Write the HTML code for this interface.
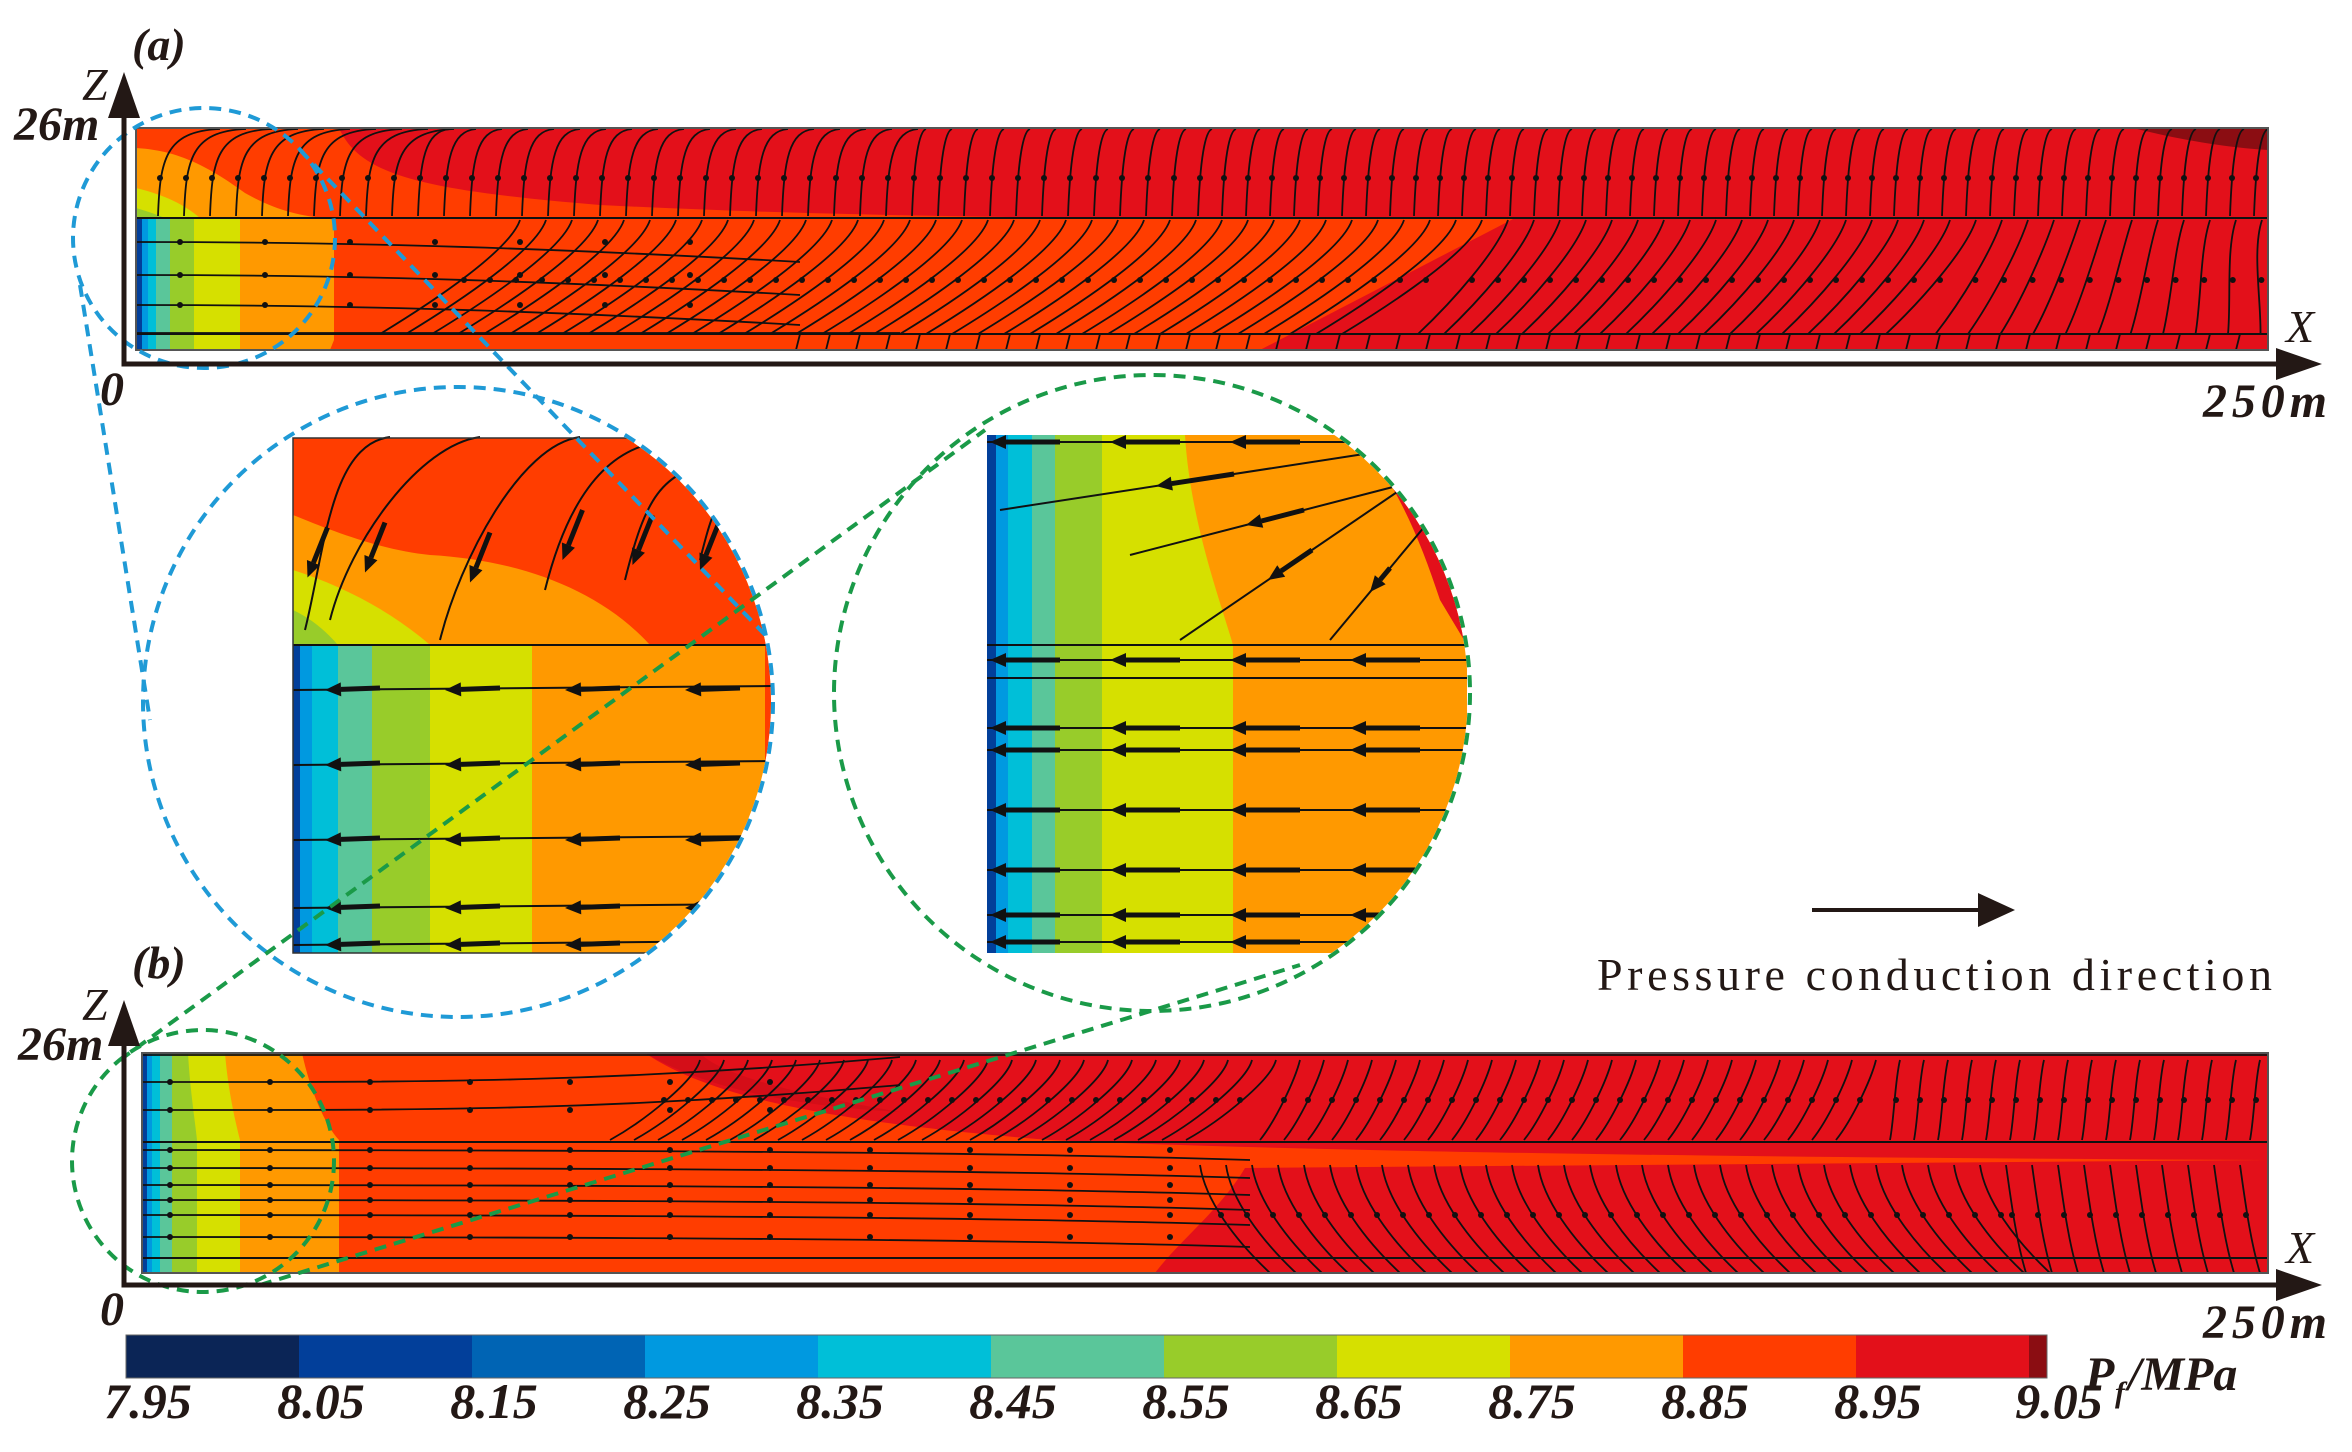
<!DOCTYPE html>
<html><head><meta charset="utf-8"><style>
html,body{margin:0;padding:0;background:#fff;}
svg{display:block;}
.lab{font-family:"Liberation Serif",serif;font-style:italic;font-weight:bold;fill:#231815;}
</style></head><body>
<svg id="s" width="2352" height="1452" viewBox="0 0 2352 1452" xmlns="http://www.w3.org/2000/svg">
<defs>
<clipPath id="ca"><rect x="136" y="128" width="2132" height="222"/></clipPath>
<clipPath id="cb"><rect x="142" y="1053" width="2126" height="220"/></clipPath>
<clipPath id="cz1"><circle cx="458" cy="702" r="313"/></clipPath>
<clipPath id="cz2"><circle cx="1152" cy="693" r="316"/></clipPath>
</defs>

<g clip-path="url(#ca)">
<rect x="136" y="128" width="2132" height="222" fill="#E3101A"/>
<path d="M136,128 L339,128 C360,175 420,190 600,205 C800,215 950,216 1080,218 L1515,218 L1260,350 L136,350 Z" fill="#FF3D00"/>
<path d="M2133,128 C2180,140 2230,148 2268,150 L2268,128 Z" fill="#8B0D12"/>
<path d="M136,148 C170,150 200,160 245,193 C275,210 300,216 325,218 L334,218 L334,340 C332,345 330,350 330,350 L136,350 Z" fill="#FF9900"/>
<path d="M136,188 C165,195 185,205 200,218 L240,218 L240,350 L136,350 Z" fill="#D6E000"/>
<path d="M136,208 C150,212 160,216 165,218 L194,218 L194,350 L136,350 Z" fill="#98CC2A"/>
<rect x="136" y="218" width="34" height="132" fill="#5AC69A"/>
<rect x="136" y="218" width="20" height="132" fill="#00BFD8"/>
<rect x="136" y="218" width="12" height="132" fill="#0099E0"/>
<rect x="136" y="218" width="6" height="132" fill="#023F9A"/>
<g id="sa" fill="none" stroke="#111" stroke-width="1.8"></g>
<line x1="136" y1="218" x2="2268" y2="218" stroke="#111" stroke-width="2"/>
<line x1="136" y1="334" x2="2268" y2="334" stroke="#111" stroke-width="2"/>
</g>
<rect x="136" y="128" width="2132" height="222" fill="none" stroke="#555" stroke-width="2"/>

<g clip-path="url(#cb)">
<rect x="142" y="1053" width="2126" height="220" fill="#FF3D00"/>
<path d="M645,1053 C700,1090 800,1120 1050,1140 C1300,1152 1800,1158 2268,1160 L2268,1053 Z" fill="#E3101A"/>
<path d="M645,1053 C700,1085 780,1105 900,1112 C800,1095 720,1075 700,1053 Z" fill="#D40E18"/>
<path d="M1245,1168 C1220,1210 1180,1240 1155,1273 L2268,1273 L2268,1160 Z" fill="#E3101A"/>
<path d="M142,1053 L302,1053 C310,1090 325,1125 339,1140 L339,1273 L142,1273 Z" fill="#FF9900"/>
<path d="M142,1053 L225,1053 C228,1090 235,1120 240,1140 L240,1273 L142,1273 Z" fill="#D6E000"/>
<path d="M142,1053 L188,1053 C190,1090 195,1120 197,1140 L197,1273 L142,1273 Z" fill="#98CC2A"/>
<rect x="142" y="1053" width="30" height="220" fill="#5AC69A"/>
<rect x="142" y="1053" width="18" height="220" fill="#00BFD8"/>
<rect x="142" y="1053" width="10" height="220" fill="#0099E0"/>
<rect x="142" y="1053" width="5" height="220" fill="#023F9A"/>
<g id="sb" fill="none" stroke="#111" stroke-width="1.8"></g>
<line x1="142" y1="1142" x2="2268" y2="1142" stroke="#111" stroke-width="2"/>
<line x1="142" y1="1258" x2="2268" y2="1258" stroke="#111" stroke-width="2"/>
</g>
<rect x="142" y="1053" width="2126" height="220" fill="none" stroke="#555" stroke-width="2"/>

<g clip-path="url(#cz1)">
<rect x="293" y="438" width="480" height="515" fill="#FF9900"/>
<path d="M293,438 L773,438 L773,645 L650,645 C600,590 520,560 430,555 C380,550 330,530 293,515 Z" fill="#FF3D00"/>
<path d="M293,570 C340,585 390,610 430,645 L293,645 Z" fill="#D6E000"/>
<path d="M293,610 C310,618 325,630 338,645 L293,645 Z" fill="#98CC2A"/>
<rect x="430" y="645" width="102" height="308" fill="#D6E000"/>
<rect x="372" y="645" width="58" height="308" fill="#98CC2A"/>
<rect x="338" y="645" width="34" height="308" fill="#5AC69A"/>
<rect x="312" y="645" width="26" height="308" fill="#00BFD8"/>
<rect x="300" y="645" width="12" height="308" fill="#0099E0"/>
<rect x="293" y="645" width="7" height="308" fill="#023F9A"/>
<rect x="765" y="645" width="20" height="308" fill="#FF3D00"/>
<g id="z1" fill="none" stroke="#111" stroke-width="2"></g>
<line x1="293" y1="645" x2="773" y2="645" stroke="#111" stroke-width="2"/>
</g>
<rect x="293" y="438" width="480" height="515" fill="none" stroke="#333" stroke-width="1.5" clip-path="url(#cz1)"/>

<g clip-path="url(#cz2)">
<rect x="987" y="435" width="480" height="518" fill="#FF9900"/>
<path d="M1357,435 L1470,435 L1470,650 L1440,600 C1420,540 1400,490 1357,435 Z" fill="#E3101A"/>
<path d="M1102,435 L1185,435 C1190,520 1220,600 1233,645 L1233,953 L1102,953 Z" fill="#D6E000"/>
<rect x="1055" y="435" width="47" height="518" fill="#98CC2A"/>
<rect x="1032" y="435" width="23" height="518" fill="#5AC69A"/>
<rect x="1008" y="435" width="24" height="518" fill="#00BFD8"/>
<rect x="996" y="435" width="12" height="518" fill="#0099E0"/>
<rect x="987" y="435" width="9" height="518" fill="#023F9A"/>
<g id="z2" fill="none" stroke="#111" stroke-width="2"></g>
</g>

<g fill="none" stroke="#1F9AD6" stroke-width="4" stroke-dasharray="12,8">
<ellipse cx="204" cy="238" rx="131" ry="130"/>
<circle cx="458" cy="702" r="315"/>
<line x1="80" y1="285" x2="150" y2="720"/>
<line x1="300" y1="150" x2="770" y2="640"/>
</g>
<g fill="none" stroke="#1A9A48" stroke-width="4" stroke-dasharray="12,8">
<circle cx="203" cy="1161" r="131"/>
<circle cx="1152" cy="693" r="318"/>
<line x1="120" y1="1060" x2="985" y2="430"/>
<line x1="260" y1="1285" x2="1300" y2="965"/>
</g>

<g stroke="#231815" stroke-width="5" fill="none">
<polyline points="124,85 124,364 2290,364"/>
<polyline points="124,1015 124,1285 2290,1285"/>
</g>
<g fill="#231815">
<polygon points="124,72 108,118 140,118"/>
<polygon points="2322,364 2276,348 2276,380"/>
<polygon points="124,1000 108,1046 140,1046"/>
<polygon points="2322,1285 2276,1269 2276,1301"/>
<polygon points="2015,910 1978,893 1978,927"/>
</g>
<line x1="1812" y1="910" x2="1985" y2="910" stroke="#231815" stroke-width="4"/>
<text x="1597" y="990" textLength="675" lengthAdjust="spacing" style="font-family:'Liberation Serif',serif;font-size:46px;fill:#231815">Pressure conduction direction</text>

<text class="lab" x="132" y="60" font-size="46">(a)</text>
<text class="lab" x="132" y="978" font-size="46">(b)</text>
<text x="82" y="100" style="font-family:'Liberation Serif',serif;font-style:italic;font-size:46px;fill:#231815">Z</text>
<text x="82" y="1020" style="font-family:'Liberation Serif',serif;font-style:italic;font-size:46px;fill:#231815">Z</text>
<text class="lab" x="14" y="140" font-size="48">26m</text>
<text class="lab" x="18" y="1060" font-size="48">26m</text>
<text class="lab" x="100" y="405" font-size="48">0</text>
<text class="lab" x="100" y="1325" font-size="48">0</text>
<text x="2286" y="342" style="font-family:'Liberation Serif',serif;font-style:italic;font-size:46px;fill:#231815">X</text>
<text x="2286" y="1263" style="font-family:'Liberation Serif',serif;font-style:italic;font-size:46px;fill:#231815">X</text>
<text class="lab" x="2203" y="417" font-size="48" textLength="124">250m</text>
<text class="lab" x="2203" y="1338" font-size="48" textLength="124">250m</text>

<g id="cbar"></g>
<text class="lab" x="2085" y="1390" font-size="48">P</text>
<text class="lab" x="2115" y="1402" font-size="30">f</text>
<text class="lab" x="2128" y="1390" font-size="48">/MPa</text>
</svg>
<script>
var cols=["#0B2556","#023F9A","#0064B4","#0099E0","#00BFD8","#5AC69A","#98CC2A","#D6E000","#FF9900","#FF3D00","#E3101A"];
var labs=["7.95","8.05","8.15","8.25","8.35","8.45","8.55","8.65","8.75","8.85","8.95","9.05"];
var h="";
for(var i=0;i<11;i++){h+='<rect x="'+(126+173*i)+'" y="1335" width="173.5" height="43" fill="'+cols[i]+'"/>';}
h+='<rect x="2029" y="1335" width="18" height="43" fill="#8B0D12"/>';
h+='<rect x="126" y="1335" width="1921" height="43" fill="none" stroke="#666" stroke-width="1"/>';
for(var i=0;i<12;i++){var x=126+173*i+(i==11?30:22);h+='<text class="lab" x="'+x+'" y="1418" font-size="50" text-anchor="middle">'+labs[i]+'</text>';}
document.getElementById("cbar").innerHTML=h;
function dot(x,y){return '<circle cx="'+x+'" cy="'+y+'" r="3" fill="#111" stroke="none"/>';}
var a="";
for(var x=160;x<2265;x+=(x<1200?26:24)){
 var k=x<400?60:(x<900?30:12);
 a+='<path d="M'+(x+k)+',129 C'+(x+5)+',131 '+x+',160 '+(x-2)+',216"/>'+dot(x,178);
}
[242,275,305].forEach(function(y){a+='<path d="M136,'+y+' C300,'+y+' 500,'+(y+3)+' 800,'+(y+20)+'"/>';for(var x=180;x<700;x+=85)a+=dot(x,y);});
a+='<path d="M136,333 L900,333"/>';
for(var x=520;x<2265;x+=26){var d=x<1500?140:(x<2000?90:(2268-x)/4);a+='<path d="M'+x+',220 C'+(x-10)+',250 '+(x-d*0.6)+',300 '+(x-d)+',334"/>'+dot(x-d*0.4,280);}
for(var x=800;x<2265;x+=30){a+='<path d="M'+x+',334 L'+(x-4)+',350"/>';}
document.getElementById("sa").innerHTML=a;
var b="";
b+='<path d="M142,1055 L2268,1055"/>';
for(var x=700;x<2265;x+=24){var k=x<1300?90:(x<1900?40:10);b+='<path d="M'+x+',1060 C'+(x-5)+',1080 '+(x-k*0.6)+',1120 '+(x-k)+',1140"/>'+dot(x-k*0.4,1100);}
[1082,1110].forEach(function(y){b+='<path d="M142,'+y+' C400,'+y+' 600,'+(y+2)+' 900,'+(y-25)+'"/>';for(var x=170;x<800;x+=100)b+=dot(x,y);});
[1150,1168,1185,1200,1215,1237].forEach(function(y){b+='<path d="M142,'+y+' C600,'+y+' 1000,'+(y+2)+' 1250,'+(y+10)+'"/>';for(var x=170;x<1200;x+=100)b+=dot(x,y);});
for(var x=1200;x<2265;x+=26){var d=x<2000?70:20;b+='<path d="M'+x+',1165 C'+(x+5)+',1200 '+(x+d*0.5)+',1240 '+(x+d)+',1273"/>'+dot(x+d*0.3,1215);}
document.getElementById("sb").innerHTML=b;
function arr(x1,y1,x2,y2){var dx=x2-x1,dy=y2-y1,L=Math.sqrt(dx*dx+dy*dy),ux=dx/L,uy=dy/L;var bx=x2-ux*16,by=y2-uy*16;return '<line x1="'+x1+'" y1="'+y1+'" x2="'+bx+'" y2="'+by+'" stroke-width="5"/><polygon points="'+x2+','+y2+' '+(bx-uy*7)+','+(by+ux*7)+' '+(bx+uy*7)+','+(by-ux*7)+'" fill="#111" stroke="none"/>';}
var z="";
[690,765,840,908,945].forEach(function(y){z+='<line x1="293" y1="'+y+'" x2="773" y2="'+(y-4)+'"/>';[740,620,500,380].forEach(function(x){z+=arr(x,y-2,x-55,y);});});
var tops=[[330,445,305,630],[420,445,330,620],[520,445,440,640],[600,450,545,590],[660,470,625,580],[720,500,700,560]];
tops.forEach(function(t){z+='<path d="M'+(t[0]+60)+','+(t[1]-8)+' C'+t[0]+','+t[1]+' '+(t[2]+20)+','+(t[3]-80)+' '+t[2]+','+t[3]+'"/>';z+=arr((t[0]+t[2])/2+10,(t[1]+t[3])/2-10,(t[0]+t[2])/2-10,(t[1]+t[3])/2+40);});
document.getElementById("z1").innerHTML=z;
var g="";
[442,645,660,678,728,750,810,870,915,942].forEach(function(y,i){g+='<line x1="987" y1="'+y+'" x2="1467" y2="'+y+'"/>';if(i%2==0||i>3){[1420,1300,1180,1060].forEach(function(x){g+=arr(x,y,x-70,y);});}});
[[1400,490,1180,640],[1430,520,1330,640],[1390,450,1000,510],[1420,480,1130,555]].forEach(function(t){g+='<line x1="'+t[0]+'" y1="'+t[1]+'" x2="'+t[2]+'" y2="'+t[3]+'"/>';g+=arr((t[0]*0.6+t[2]*0.4),(t[1]*0.6+t[3]*0.4),(t[0]*0.4+t[2]*0.6),(t[1]*0.4+t[3]*0.6));});
document.getElementById("z2").innerHTML=g;
</script>
</body></html>
